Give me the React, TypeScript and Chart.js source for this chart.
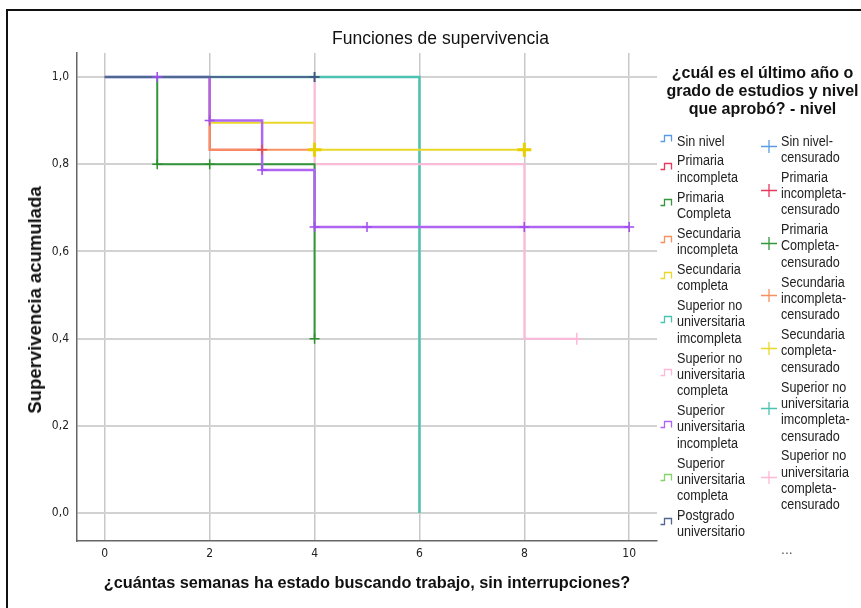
import React, { useEffect, useRef } from "react";
import { Chart, registerables } from "chart.js";
Chart.register(...registerables);

// ---------- data ----------
const xTicks = [0, 2, 4, 6, 8, 10];
const yTicks = [0, 0.2, 0.4, 0.6, 0.8, 1.0];

const seriesNames = [
  ["Sin nivel"],
  ["Primaria", "incompleta"],
  ["Primaria", "Completa"],
  ["Secundaria", "incompleta"],
  ["Secundaria", "completa"],
  ["Superior no", "universitaria", "imcompleta"],
  ["Superior no", "universitaria", "completa"],
  ["Superior", "universitaria", "incompleta"],
  ["Superior", "universitaria", "completa"],
  ["Postgrado", "universitario"],
];
const censoredNames = [
  ["Sin nivel-", "censurado"],
  ["Primaria", "incompleta-", "censurado"],
  ["Primaria", "Completa-", "censurado"],
  ["Secundaria", "incompleta-", "censurado"],
  ["Secundaria", "completa-", "censurado"],
  ["Superior no", "universitaria", "imcompleta-", "censurado"],
  ["Superior no", "universitaria", "completa-", "censurado"],
];
const seriesColors = [
  "#5b9be6", "#e8385e", "#33963a", "#f7915f", "#ead829",
  "#4cc2b0", "#ffb8d8", "#ae66f2", "#86d36a", "#4f6890",
];

// step-function vertices (time, cumulative survival)
const sinNivelT = [0, 4];
const sinNivelS = [1, 1];
const primIncT = [0, 2, 3];
const primIncS = [1, 0.833, 0.833];
const primComT = [0, 1, 4];
const primComS = [1, 0.8, 0.4];
const secIncT = [0, 2, 4];
const secIncS = [1, 0.833, 0.833];
const secComT = [0, 2, 4, 8];
const secComS = [1, 0.895, 0.833, 0.833];
const supNoUIncT = [0, 6];
const supNoUIncS = [1, 0];
const supNoUComT = [0, 4, 8, 9];
const supNoUComS = [1, 0.8, 0.4, 0.4];
const supUIncT = [0, 2, 3, 4, 10];
const supUIncS = [1, 0.9, 0.787, 0.656, 0.656];
const supUComT = [0, 4];
const supUComS = [1, 1];
const postT = [0, 4];
const postS = [1, 1];

// censored observations
const cPrimIncT = [3];
const cPrimIncS = [0.833];
const cPrimComT = [1, 2, 4];
const cPrimComS = [0.8, 0.8, 0.4];
const cSecComT = [4, 8];
const cSecComS = [0.833, 0.833];
const cSupNoUComT = [9];
const cSupNoUComS = [0.4];
const cSupUIncT = [1, 2, 3, 4, 5, 8, 10];
const cSupUIncS = [1, 0.9, 0.787, 0.656, 0.656, 0.656, 0.656];
const cPostT = [4];
const cPostS = [1];

const NARROW = '"DejaVu Sans Condensed", "Liberation Sans", sans-serif';
const SANS = '"Liberation Sans", Arial, sans-serif';

const pts = (t: number[], s: number[]) => t.map((x, i) => ({ x, y: s[i] }));

function StepIcon({ color }: { color: string }) {
  return (
    <svg width="13" height="9" style={{ display: "block" }}>
      <path d="M0.5 7.5 H4.5 V1.5 H11.5 V7.5" fill="none" stroke={color} strokeWidth="1.3" />
    </svg>
  );
}
function CrossIcon({ color }: { color: string }) {
  return (
    <svg width="16" height="13" style={{ display: "block" }}>
      <path d="M0 6.5 H16 M8 0 V13" fill="none" stroke={color} strokeWidth="1.3" />
    </svg>
  );
}

function Lines({ lines }: { lines: string[] }) {
  return (
    <div style={{ whiteSpace: "nowrap" }}>
      {lines.map((l, j) => (
        <div key={j} style={{ transform: "scaleX(0.9)", transformOrigin: "left center" }}>{l}</div>
      ))}
    </div>
  );
}

export default function App() {
  const ref = useRef<HTMLCanvasElement | null>(null);

  useEffect(() => {
    if (!ref.current) return;
    const line = (label: string, t: number[], s: number[], color: string, order: number, width = 2) => ({
      type: "line" as const,
      label,
      data: pts(t, s),
      borderColor: color,
      backgroundColor: color,
      borderWidth: width,
      stepped: "before" as const,
      pointRadius: 0,
      fill: false,
      order,
    });
    const cens = (label: string, t: number[], s: number[], color: string, r = 5, w = 1.5) => ({
      type: "line" as const,
      label,
      data: pts(t, s),
      showLine: false,
      pointStyle: "cross" as const,
      pointRadius: r,
      pointBorderWidth: w,
      pointBorderColor: color,
      borderColor: color,
      backgroundColor: color,
      order: 0,
    });
    const chart = new Chart(ref.current, {
      type: "line",
      data: {
        datasets: [
          cens("c-post", cPostT, cPostS, "#3d5a80", 5, 2),
          cens("c-supUInc", cSupUIncT, cSupUIncS, "#a24df0", 5, 1.5),
          cens("c-secCom", cSecComT, cSecComS, "#e6d000", 7, 3),
          cens("c-primCom", cPrimComT, cPrimComS, "#2f8f2f", 5, 1.5),
          cens("c-primInc", cPrimIncT, cPrimIncS, "#e8503e", 5, 1.5),
          cens("c-supNoUCom", cSupNoUComT, cSupNoUComS, "#ffb8d8", 6, 1.5),
          line(seriesNames[9].join(" "), postT, postS, seriesColors[9], 1),
          line(seriesNames[7].join(" "), supUIncT, supUIncS, seriesColors[7], 2, 2.5),
          line(seriesNames[2].join(" "), primComT, primComS, seriesColors[2], 3),
          line(seriesNames[6].join(" "), supNoUComT, supNoUComS, seriesColors[6], 4),
          line(seriesNames[3].join(" "), secIncT, secIncS, seriesColors[3], 5),
          line(seriesNames[4].join(" "), secComT, secComS, seriesColors[4], 6),
          line(seriesNames[1].join(" "), primIncT, primIncS, seriesColors[1], 7),
          line(seriesNames[5].join(" "), supNoUIncT, supNoUIncS, seriesColors[5], 8, 2.5),
          line(seriesNames[8].join(" "), supUComT, supUComS, seriesColors[8], 9),
          line(seriesNames[0].join(" "), sinNivelT, sinNivelS, seriesColors[0], 10),
        ],
      },
      options: {
        animation: false,
        responsive: false,
        devicePixelRatio: 1,
        events: [],
        layout: { padding: { left: 0, top: 53, right: 204, bottom: 0 } },
        plugins: { legend: { display: false }, title: { display: false }, tooltip: { enabled: false } },
        scales: {
          x: {
            type: "linear",
            min: -0.53,
            max: 10.53,
            afterBuildTicks: (s: any) => { s.ticks = xTicks.map((v) => ({ value: v })); },
            afterFit: (s: any) => { s.height = 67; },
            grid: { color: "#c8c8c8", lineWidth: 1.5, drawTicks: false },
            border: { display: true, color: "#666666", width: 1.5 },
            ticks: { color: "#222", font: { family: NARROW, size: 12 }, padding: 6, maxRotation: 0, autoSkip: false },
          },
          y: {
            type: "linear",
            min: -0.064,
            max: 1.055,
            afterBuildTicks: (s: any) => { s.ticks = yTicks.map((v) => ({ value: v })); },
            afterFit: (s: any) => { s.width = 77; },
            grid: { color: "#d2d2d2", lineWidth: 2, drawTicks: false },
            border: { display: true, color: "#666666", width: 1.5 },
            ticks: {
              color: "#222",
              font: { family: NARROW, size: 12 },
              padding: 8,
              callback: (v: any) => Number(v).toFixed(1).replace(".", ","),
            },
          },
        },
      } as any,
    });
    return () => chart.destroy();
  }, []);

  const lh = 16.3;
  const gap = 3.6;

  return (
    <div style={{ position: "absolute", left: 0, top: 0, width: 861, height: 608, overflow: "hidden", background: "#fff", fontFamily: SANS }}>
      <div style={{ position: "absolute", left: 6, top: 9, width: 940, height: 700, border: "2px solid #111", boxSizing: "border-box" }} />
      <canvas ref={ref} width={861} height={608} style={{ position: "absolute", left: 0, top: 0, width: 861, height: 608 }} />
      {/* chart title */}
      <div style={{ position: "absolute", left: 332, top: 28, fontSize: 17.5, lineHeight: "20px", color: "#111", whiteSpace: "nowrap" }}>
        Funciones de supervivencia
      </div>
      {/* y axis title */}
      <div style={{ position: "absolute", left: 35, top: 300, transform: "translate(-50%, -50%) rotate(-90deg)", fontSize: 18.5, fontWeight: "bold", color: "#111", whiteSpace: "nowrap" }}>
        Supervivencia acumulada
      </div>
      {/* x axis title */}
      <div style={{ position: "absolute", left: 367, top: 582, transform: "translate(-50%, -50%)", fontSize: 16.3, fontWeight: "bold", color: "#111", whiteSpace: "nowrap" }}>
        ¿cuántas semanas ha estado buscando trabajo, sin interrupciones?
      </div>
      {/* legend title */}
      <div style={{ position: "absolute", left: 664, top: 64, width: 197, textAlign: "center", fontSize: 16, fontWeight: "bold", lineHeight: "18px", color: "#111", whiteSpace: "nowrap" }}>
        ¿cuál es el último año o<br />grado de estudios y nivel<br />que aprobó? - nivel
      </div>
      {/* legend column 1 */}
      <div style={{ position: "absolute", left: 660, top: 132.5, fontSize: 14, lineHeight: lh + "px", color: "#222" }}>
        {seriesNames.map((lines, i) => (
          <div key={i} style={{ display: "flex", alignItems: "center", marginBottom: gap }}>
            <div style={{ width: 17, marginTop: -4 }}><StepIcon color={seriesColors[i]} /></div>
            <Lines lines={lines} />
          </div>
        ))}
      </div>
      {/* legend column 2 */}
      <div style={{ position: "absolute", left: 761, top: 132.5, fontSize: 14, lineHeight: lh + "px", color: "#222" }}>
        {censoredNames.map((lines, i) => (
          <div key={i} style={{ display: "flex", alignItems: "center", marginBottom: gap }}>
            <div style={{ width: 20, marginTop: -5 }}><CrossIcon color={seriesColors[i]} /></div>
            <Lines lines={lines} />
          </div>
        ))}
        <div style={{ paddingLeft: 20, marginTop: 28, color: "#555" }}>...</div>
      </div>
    </div>
  );
}
